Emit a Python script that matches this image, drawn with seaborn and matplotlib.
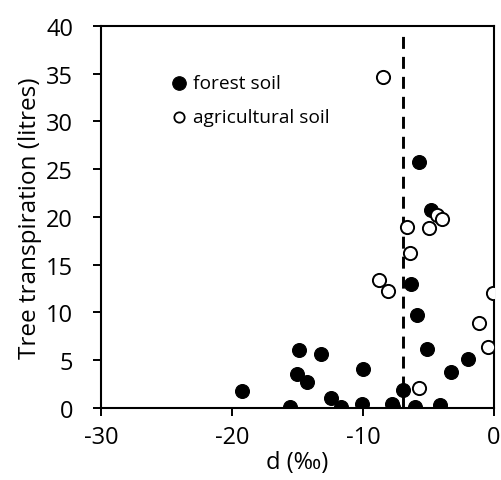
import matplotlib
matplotlib.use("Agg")
import matplotlib.pyplot as plt
import seaborn as sns
import pandas as pd

# Isotope signature (‰) and tree transpiration (litres) for each soil type
forest_d = [-5.70, -4.83, -6.34, -5.90, -5.09, -14.91, -13.21, -15.06, -14.25,
            -19.21, -10.00, -1.96, -3.26, -6.92, -12.45, -15.55, -11.70, -10.05,
            -7.76, -7.70, -6.05, -4.15]
forest_t = [25.8, 20.7, 13.0, 9.7, 6.2, 6.1, 5.7, 3.6, 2.7,
            1.75, 4.05, 5.1, 3.75, 1.85, 1.0, 0.07, 0.07, 0.45,
            0.45, 0.07, 0.1, 0.35]

agri_d = [-8.45, -4.35, -4.00, -6.67, -4.96, -6.39, -8.80, -8.07, -0.05,
          -1.15, -0.43, -5.70]
agri_t = [34.7, 20.2, 19.8, 18.9, 18.8, 16.2, 13.4, 12.3, 12.0,
          8.9, 6.4, 2.05]

# Vertical reference line
ref_d = [-6.93, -6.93]
ref_t = [0, 39]

x_ticks = [-30, -20, -10, 0]
y_ticks = [0, 5, 10, 15, 20, 25, 30, 35, 40]

sns.set_theme(style="white")
plt.rcParams["font.family"] = ["Open Sans", "DejaVu Sans"]
plt.rcParams["text.color"] = "black"
plt.rcParams["axes.labelcolor"] = "black"

fig = plt.figure(figsize=(5.02, 4.81), dpi=100)
ax = fig.add_axes([0.2012, 0.1497, 0.7829, 0.7942])

ax.plot(ref_d, ref_t, color="black", lw=2.1, ls=(0, (4.1, 2.75)), zorder=1)

forest = pd.DataFrame({"d": forest_d, "t": forest_t})
agri = pd.DataFrame({"d": agri_d, "t": agri_t})

sns.scatterplot(data=forest, x="d", y="t", ax=ax, s=100, color="black",
                edgecolor="black", linewidth=0.8, label="forest soil", zorder=3)
sns.scatterplot(data=agri, x="d", y="t", ax=ax, s=90, facecolor="white",
                edgecolor="black", linewidth=1.4, label="agricultural soil", zorder=4)

ax.set_xlim(-30, 0)
ax.set_ylim(0, 40)
ax.set_xticks(x_ticks)
ax.set_yticks(y_ticks)
ax.set_xticklabels([str(v) for v in x_ticks])
ax.set_yticklabels([str(v) for v in y_ticks])
ax.tick_params(direction="out", length=6, width=1.4, labelsize=17,
               color="black", labelcolor="black",
               bottom=True, left=True, top=False, right=False)
ax.tick_params(axis="y", pad=14)
ax.tick_params(axis="x", pad=6)

# closed black frame around the plot area
for side in ["left", "right", "top", "bottom"]:
    ax.spines[side].set_visible(True)
    ax.spines[side].set_linewidth(1.5)
    ax.spines[side].set_color("black")

ax.set_xlabel("d (‰)", fontsize=17, labelpad=1, color="black")
ax.set_ylabel("Tree transpiration (litres)", fontsize=17.5, labelpad=3, color="black")

leg = ax.legend(loc="upper left", bbox_to_anchor=(0.13, 0.895), frameon=False,
                fontsize=13.8, handletextpad=-0.25, labelspacing=0.85,
                borderaxespad=0)
for t in leg.get_texts():
    t.set_color("black")
handles = leg.legend_handles
handles[0].set_sizes([95])
handles[1].set_sizes([55])
handles[1].set_linewidth(1.3)

fig.savefig("out.png", dpi=100)
